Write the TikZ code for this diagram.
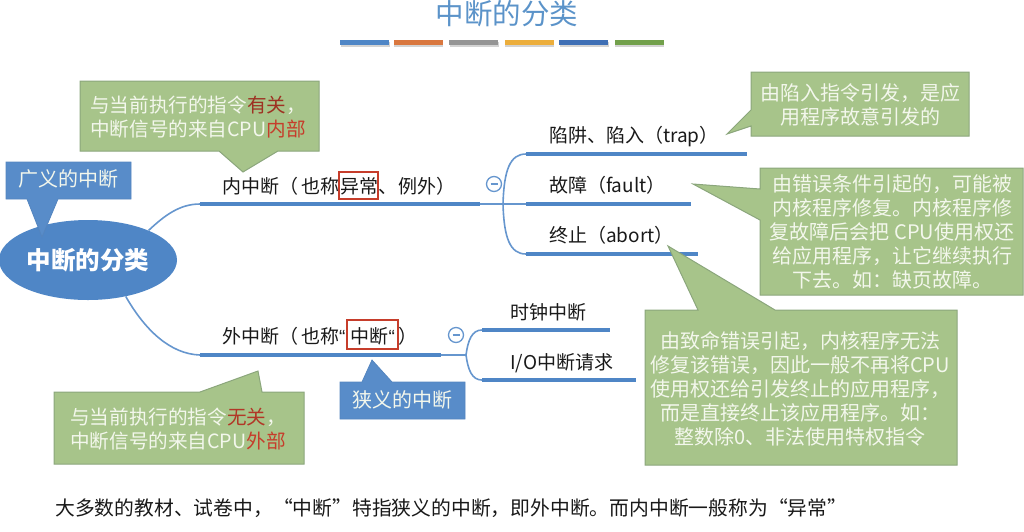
\documentclass[tikz,border=0pt]{standalone}
\usepackage{fontspec}
\setmainfont{Noto Sans CJK SC}
\newfontfamily\latinfont{Liberation Sans}
\usetikzlibrary{positioning,shapes.geometric,shadows}
\definecolor{mapblue}{HTML}{4F86C6}
\definecolor{thinblue}{HTML}{6696CE}
\definecolor{notegreen}{HTML}{A7C48A}
\definecolor{noteedge}{HTML}{8BA67C}
\definecolor{notetext}{HTML}{F3F7EC}
\definecolor{keyred}{HTML}{C63D2B}
\definecolor{titleblue}{HTML}{5B93C9}
\definecolor{stripeorange}{HTML}{D9773F}
\definecolor{stripegray}{HTML}{959595}
\definecolor{stripeyellow}{HTML}{ECAE3C}
\definecolor{stripeblue}{HTML}{3F6FB5}
\definecolor{stripegreen}{HTML}{72A04B}

\begin{document}
\begin{tikzpicture}[
  x=1pt, y=-1pt,
  stripe/.style={draw=none, minimum height=5pt, minimum width=49pt, inner sep=0pt, drop shadow={shadow xshift=0.5pt, shadow yshift=-1.5pt, opacity=.35}},
  bar/.style={fill=mapblue, minimum height=4.5pt, inner sep=0pt, outer sep=0pt},
  branch/.style={draw=thinblue, line width=1.6pt},
  topic/.style={inner sep=0pt, text height=14pt, text depth=5pt, text=black!90, font=\fontsize{19}{24}\selectfont},
  fold/.style={circle, draw=thinblue, line width=1.3pt, minimum size=15pt, inner sep=0pt},
  keybox/.style={draw=keyred, line width=2pt, inner sep=0pt},
  greenshape/.style={fill=notegreen, draw=noteedge, line width=1pt},
  blueshape/.style={fill=mapblue!95!white, draw=mapblue!90!gray, line width=.8pt},
  note/.style={align=center, inner sep=0pt, text=notetext, font=\fontsize{20}{24}\selectfont},
  noteleft/.style={note, font=\fontsize{19.6}{24}\selectfont}
]
\useasboundingbox (0,0) rectangle (1024,531);

\node[text=titleblue, inner sep=0pt, font=\fontsize{28.5}{30}\selectfont] (title) at (507,14) {中断的分类};
\node[stripe, fill=mapblue] (s1) at (364.5,42.5) {};
\node[stripe, fill=stripeorange, right=4.5pt of s1] (s2) {};
\node[stripe, fill=stripegray, right=6pt of s2] (s3) {};
\node[stripe, fill=stripeyellow, right=6pt of s3] (s4) {};
\node[stripe, fill=stripeblue, right=5pt of s4] (s5) {};
\node[stripe, fill=stripegreen, right=6pt of s5] (s6) {};

% center and the two main bars
\node[ellipse, fill=mapblue, minimum width=178pt, minimum height=80pt, inner sep=0pt, text=white, font=\fontsize{24.5}{26}\selectfont\bfseries] (root) at (88,260) {中断的分类};
\node[bar, minimum width=280pt] (inner) at (340,204) {};
\node[bar, minimum width=241pt] (outer) at (320.5,355) {};
\node[topic, above right=5pt and 22pt of inner.west] (innerlab) {内中断（\kern3pt 也称\kern1pt 异常、\kern1pt 例外）};
\node[topic, above right=6pt and 22pt of outer.west] (outerlab) {外中断（\kern3pt 也称{\latinfont “}\kern5pt 中断{\latinfont “}\kern4pt ）};

% branches of the inner bar
\node[bar, minimum width=221pt] (trap) at (636.5,154) {};
\node[bar, minimum width=165pt] (fault) at (608.5,204) {};
\node[bar, minimum width=172pt] (abort) at (612,254) {};
\node[topic, above right=6.5pt and 23pt of trap.west] (traplab) {陷阱、陷入（trap）};
\node[topic, above right=6.5pt and 23pt of fault.west] (faultlab) {故障（fault）};
\node[topic, above right=6.5pt and 23pt of abort.west] (abortlab) {终止（abort）};

% branches of the outer bar
\node[bar, minimum width=128pt] (clock) at (546,330) {};
\node[bar, minimum width=154pt] (iorq) at (559,380) {};
\node[topic, above right=5.5pt and 28pt of clock.west] (clocklab) {时钟中断};
\node[topic, above right=5.5pt and 28pt of iorq.west] (iolab) {I/O中断请求};

\coordinate (innerfork) at (503,204);
\coordinate (outerfork) at (466,355);
\draw[branch] (root.26.6) .. controls (165,215) and (180,204) .. (inner.west);
\draw[branch] (root.-44) .. controls (145,330) and (170,354) .. (outer.west);
\draw[branch] (inner.east) -- (innerfork);
\draw[branch] (outer.east) -- (outerfork);
\draw[branch] (innerfork) .. controls (504,170) and (510,154) .. (trap.west);
\draw[branch] (innerfork) -- (fault.west);
\draw[branch] (innerfork) .. controls (504,238) and (510,254) .. (abort.west);
\draw[branch] (outerfork) .. controls (468,340) and (472,330) .. (clock.west);
\draw[branch] (outerfork) .. controls (468,370) and (472,380) .. (iorq.west);

\node[fold] (foldin) at (494,184) {};
\draw[thinblue, line width=1.2pt] ([xshift=-3.5pt]foldin.center) -- ([xshift=3.5pt]foldin.center);
\node[fold] (foldout) at (456,335) {};
\draw[thinblue, line width=1.2pt] ([xshift=-3.5pt]foldout.center) -- ([xshift=3.5pt]foldout.center);

\node[keybox, minimum width=39pt, minimum height=27pt] (abnormal) at (358.5,185) {};
\node[keybox, minimum width=51pt, minimum height=29pt] (narrow) at (372.5,334.5) {};

% blue notes
\draw[blueshape] (6,162) -- (131,162) -- (131,199) -- (58,199) -- (42,237) -- (27,199) -- (6,199) -- cycle;
\node[note] (broad) at (68,179) {广义的中断};
\draw[blueshape] (340,382) -- (362,382) -- (372,360) -- (392,382) -- (465,382) -- (465,419) -- (340,419) -- cycle;
\node[note] (strict) at (402,400) {狭义的中断};

% green notes
\draw[greenshape] (80,81) -- (319,81) -- (319,151) -- (278,151) -- (243,172) -- (219,151) -- (80,151) -- cycle;
\node[noteleft] (noteinner) at (198,117) {与当前执行的指令\textcolor{keyred!80!black}{有关}，\\中断信号的来自CPU\textcolor{keyred}{内部}};
\draw[greenshape] (54,392) -- (200,392) -- (258,371) -- (262,392) -- (304,392) -- (304,464) -- (54,464) -- cycle;
\node[noteleft] (noteouter) at (178,429) {与当前执行的指令\textcolor{keyred!90!black}{无关}，\\中断信号的来自CPU\textcolor{keyred}{外部}};
\draw[greenshape] (751,72) -- (969,72) -- (969,136) -- (751,136) -- (751,126) -- (727,134) -- (751,110) -- cycle;
\node[note] (notetrap) at (860,105) {由陷入指令引发，是应\\用程序故意引发的};
\draw[greenshape] (760,168) -- (1023,168) -- (1023,295) -- (760,295) -- (760,220) -- (693,184) -- (760,189) -- cycle;
\node[note] (notefault) at (892,232) {由错误条件引起的，可能被\\内核程序修复。内核程序修\\复故障后会把 CPU使用权还\\给应用程序，让它继续执行\\下去。如：缺页故障。};
\draw[greenshape] (645,310) -- (698,310) -- (668,246) -- (775,310) -- (957,310) -- (957,465) -- (645,465) -- cycle;
\node[note] (noteabort) at (800,389) {由致命错误引起，内核程序无法\\修复该错误，因此一般不再将CPU\\使用权还给引发终止的应用程序，\\而是直接终止该应用程序。如：\\整数除0、非法使用特权指令};

\node[inner sep=0pt, anchor=west, text=black!90, font=\fontsize{19.8}{24}\selectfont] (summary) at (55,508) {大多数的教材、试卷中，“中断”特指狭义的中断，即外中断。而内中断一般称为“异常”};
\end{tikzpicture}
\end{document}
